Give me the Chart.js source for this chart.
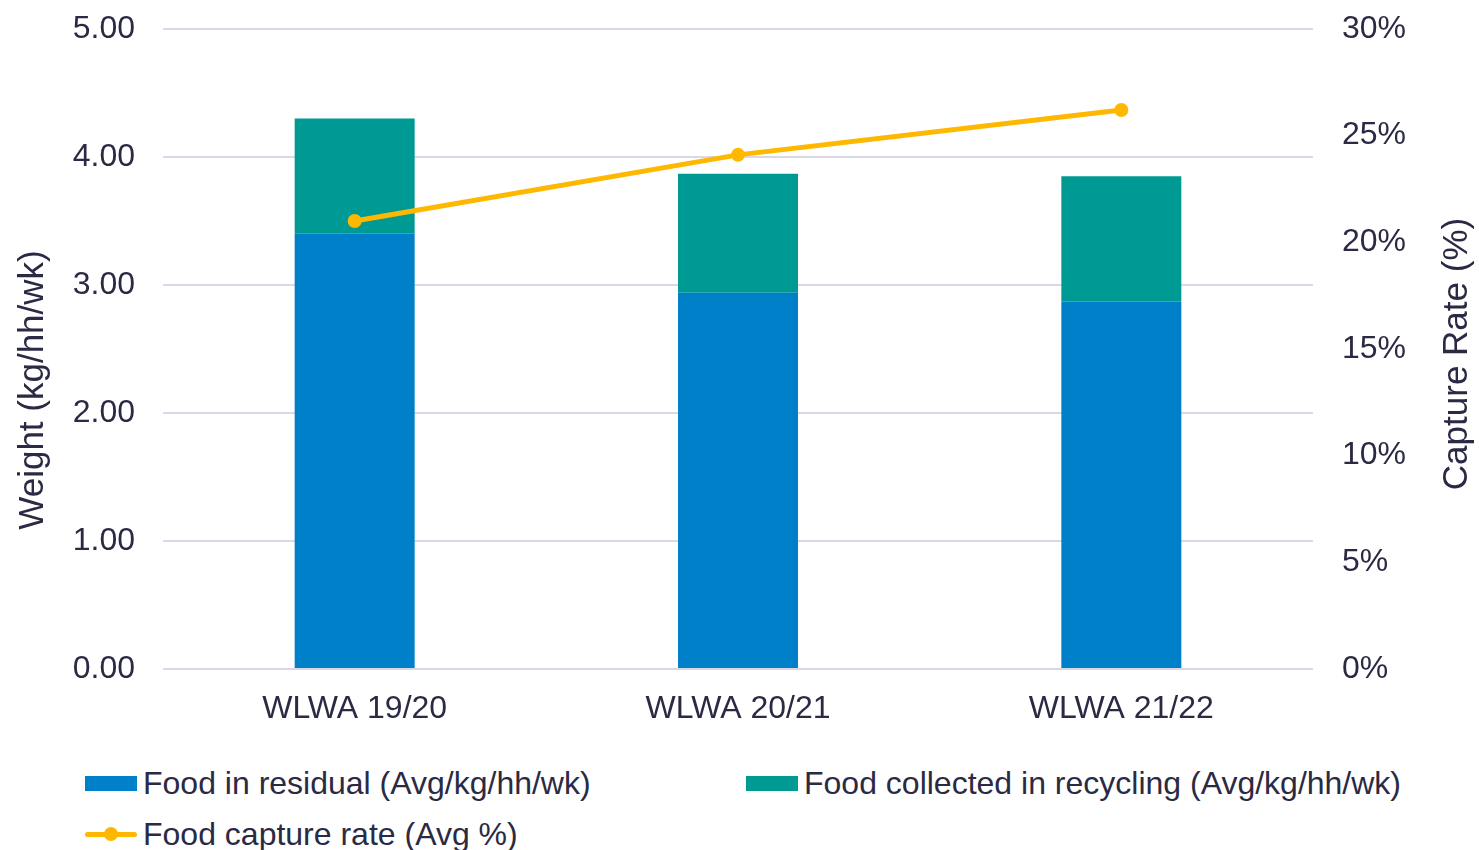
<!DOCTYPE html>
<html>
<head>
<meta charset="utf-8">
<script src="https://cdn.jsdelivr.net/npm/chart.js@4.4.1/dist/chart.umd.min.js"></script>
<style>
  body { margin: 0; background: #fff; }
  #wrap { position: relative; width: 1479px; height: 850px; overflow: hidden; font-family: "Liberation Sans", Arial, sans-serif; color: #2b2a44; }
  #box { position: absolute; left: 0; top: 0; width: 1479px; height: 745px; }
  .item { position: absolute; font-size: 32px; line-height: 32px; white-space: nowrap; }
  .sw { position: absolute; }
</style>
</head>
<body>
<div id="wrap">
  <div id="box"><canvas id="chart"></canvas></div>
  <div id="legend"></div>
</div>
<script>
const categories = ["WLWA 19/20", "WLWA 20/21", "WLWA 21/22"];
const residual = [3.40, 2.94, 2.87];
const recycling = [0.90, 0.93, 0.98];
const captureRate = [21.0, 24.1, 26.2];

const labels = [
  "Food in residual (Avg/kg/hh/wk)",
  "Food collected in recycling (Avg/kg/hh/wk)",
  "Food capture rate (Avg %)",
];
const leftTitle = "Weight (kg/hh/wk)";
const rightTitle = "Capture Rate (%)";

const blue = "#0080c9";
const teal = "#009a95";
const yellow = "#ffb800";
const ink = "#2b2a44";
const gridColor = "#d9d9e6";
const font = "'Liberation Sans', Arial, sans-serif";

const axisTitles = {
  id: "axisTitles",
  afterDraw(chart) {
    const { ctx, chartArea } = chart;
    ctx.save();
    ctx.fillStyle = ink;
    ctx.font = "35px " + font;
    ctx.textAlign = "center";
    ctx.textBaseline = "middle";
    ctx.translate(33, chartArea.top + 361);
    ctx.rotate(-Math.PI / 2);
    ctx.fillText(leftTitle, 0, 0);
    ctx.restore();

    ctx.save();
    ctx.fillStyle = ink;
    ctx.font = "35px " + font;
    ctx.textAlign = "center";
    ctx.textBaseline = "middle";
    ctx.translate(chartArea.right + 144, chartArea.top + 325);
    ctx.rotate(-Math.PI / 2);
    ctx.fillText(rightTitle, 0, 0);
    ctx.restore();
  },
};

// tick padding would otherwise push the plot area down
function fixWidth(w) {
  return (scale) => {
    scale.width = w;
    scale.paddingTop = 0;
    scale.paddingBottom = 0;
  };
}

const chart = new Chart(document.getElementById("chart"), {
  data: {
    labels: categories,
    datasets: [
      {
        type: "line",
        label: labels[2],
        data: captureRate,
        yAxisID: "y1",
        borderColor: yellow,
        backgroundColor: yellow,
        borderWidth: 5,
        pointRadius: 7,
        pointHoverRadius: 7,
        pointBorderWidth: 0,
        order: 0,
      },
      {
        type: "bar",
        label: labels[0],
        data: residual,
        yAxisID: "y",
        backgroundColor: blue,
        categoryPercentage: 1,
        barPercentage: 0.313,
        order: 1,
      },
      {
        type: "bar",
        label: labels[1],
        data: recycling,
        yAxisID: "y",
        backgroundColor: teal,
        categoryPercentage: 1,
        barPercentage: 0.313,
        order: 1,
      },
    ],
  },
  options: {
    responsive: true,
    maintainAspectRatio: false,
    animation: false,
    layout: { padding: { top: 29, left: 0, right: 0, bottom: 0 } },
    scales: {
      x: {
        stacked: true,
        grid: { display: false },
        border: { display: false },
        ticks: { color: ink, padding: 13, font: { family: font, size: 32 } },
        afterFit(scale) {
          scale.height = 76;
        },
      },
      y: {
        stacked: true,
        position: "left",
        min: 0,
        max: 5,
        grid: { color: gridColor, lineWidth: 2, drawTicks: false },
        border: { display: false },
        ticks: {
          stepSize: 1,
          padding: 28,
          color: ink,
          font: { family: font, size: 32 },
          callback: (v) => v.toFixed(2),
        },
        afterFit: fixWidth(163),
      },
      y1: {
        position: "right",
        min: 0,
        max: 30,
        stacked: false,
        grid: { display: false, drawTicks: false },
        border: { display: false },
        ticks: {
          stepSize: 5,
          padding: 29,
          color: ink,
          font: { family: font, size: 32 },
          callback: (v) => v + "%",
        },
        afterFit: fixWidth(166),
      },
    },
    plugins: {
      legend: { display: false },
      tooltip: { enabled: false },
    },
  },
  plugins: [axisTitles],
});

// html legend
const legend = document.getElementById("legend");
const items = [
  { text: labels[0], color: blue, kind: "box", x: 85, y: 767 },
  { text: labels[1], color: teal, kind: "box", x: 746, y: 767 },
  { text: labels[2], color: yellow, kind: "line", x: 85, y: 818 },
];
items.forEach((it) => {
  if (it.kind === "box") {
    const s = document.createElement("div");
    s.className = "sw";
    s.style.cssText = `left:${it.x}px;top:${it.y + 9}px;width:52px;height:15px;background:${it.color}`;
    legend.appendChild(s);
  } else {
    const l = document.createElement("div");
    l.className = "sw";
    l.style.cssText = `left:${it.x}px;top:${it.y + 14}px;width:52px;height:5px;background:${it.color};border-radius:3px`;
    legend.appendChild(l);
    const c = document.createElement("div");
    c.className = "sw";
    c.style.cssText = `left:${it.x + 19}px;top:${it.y + 9}px;width:14px;height:14px;background:${it.color};border-radius:50%`;
    legend.appendChild(c);
  }
  const t = document.createElement("div");
  t.className = "item";
  t.style.left = it.x + 58 + "px";
  t.style.top = it.y + "px";
  t.textContent = it.text;
  legend.appendChild(t);
});
</script>
</body>
</html>
